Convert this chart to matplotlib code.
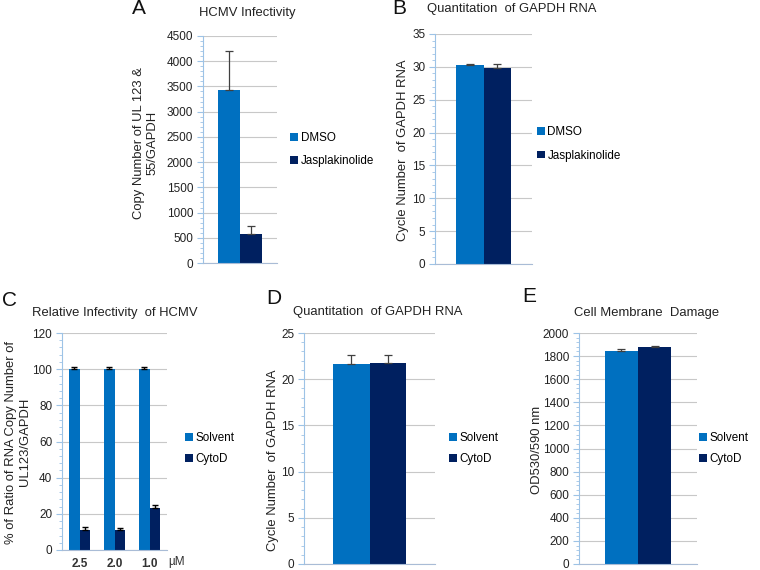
"""Five-panel bar figure: HCMV infectivity and controls (A-E)."""

import matplotlib
matplotlib.use("Agg")
import matplotlib.pyplot as plt
import numpy as np
from matplotlib.patches import Patch
from matplotlib.ticker import AutoMinorLocator, MultipleLocator

plt.rcParams["font.family"] = ["Liberation Sans", "DejaVu Sans"]

# ---------------------------------------------------------------------------
# Data
# ---------------------------------------------------------------------------
JASP_LABELS = ["DMSO", "Jasplakinolide"]
CYTO_LABELS = ["Solvent", "CytoD"]

A_VALUES = [3420, 570]
A_ERRORS = [780, 160]

B_VALUES = [30.3, 29.9]
B_ERRORS = [0.1, 0.6]

C_DOSES = ["2.5", "2.0", "1.0"]
C_SOLVENT = [100, 100, 100]
C_SOLVENT_ERR = [1.0, 1.0, 1.0]
C_CYTOD = [11.0, 11.0, 23.5]
C_CYTOD_ERR = [1.8, 1.3, 1.4]

D_VALUES = [21.6, 21.7]
D_ERRORS = [1.0, 0.9]

E_VALUES = [1845, 1875]
E_ERRORS = [20, 12]

# ---------------------------------------------------------------------------
# Style
# ---------------------------------------------------------------------------
W, H = 760, 570
LIGHT = "#0070C0"
DARK = "#002060"
GRID = "#C8C8C8"
SPINE = "#9DC3E6"
TEXT = "#222222"


def px_axes(fig, x0, y0, x1, y1):
    """Add axes from pixel box (top-left origin)."""
    return fig.add_axes([x0 / W, 1 - y1 / H, (x1 - x0) / W, (y1 - y0) / H])


def style_axes(ax, ymax, step):
    ax.set_ylim(0, ymax)
    ax.yaxis.set_major_locator(MultipleLocator(step))
    ax.yaxis.set_minor_locator(AutoMinorLocator(5))
    ax.grid(axis="y", color=GRID, linewidth=0.8, zorder=0)
    ax.set_axisbelow(True)
    for side in ("top", "right"):
        ax.spines[side].set_visible(False)
    ax.spines["left"].set_color(SPINE)
    ax.spines["bottom"].set_color("#A9BCD6")
    ax.tick_params(axis="y", which="major", length=4, color=SPINE,
                   labelsize=8.5, labelcolor=TEXT, pad=3)
    ax.tick_params(axis="y", which="minor", length=2.5, color=SPINE)
    ax.tick_params(axis="x", length=0)
    ax.set_xticks([])


def pair_bars(ax, values, errors, width, ecolor):
    offsets = [-width / 2, width / 2]
    for off, val, err, col in zip(offsets, values, errors, [LIGHT, DARK]):
        ax.bar(off, val, width=width, color=col, zorder=2)
        ax.errorbar(off, val, yerr=[[0], [err]], fmt="none", ecolor=ecolor,
                    elinewidth=0.9, capsize=3, capthick=0.9, zorder=3)
    ax.set_xlim(-0.5, 0.5)


def add_legend(fig, ax, labels, x, y, spacing):
    handles = [Patch(facecolor=c, edgecolor="none", label=l)
               for c, l in zip([LIGHT, DARK], labels)]
    ax.legend(handles=handles, loc="center left", bbox_to_anchor=(x / W, 1 - y / H),
              bbox_transform=fig.transFigure, frameon=False, fontsize=8.4,
              handlelength=0.65, handleheight=0.65, handletextpad=0.25,
              labelspacing=spacing, borderpad=0, borderaxespad=0)


def panel_text(fig, letter, lx, ly, title, tx, ty):
    fig.text(lx / W, 1 - ly / H, letter, fontsize=15, ha="left", va="center",
             color="#111111")
    fig.text(tx / W, 1 - ty / H, title, fontsize=9.4, ha="center", va="center",
             color=TEXT)


def ylabel(fig, x, y, text):
    fig.text(x / W, 1 - y / H, text, rotation=90, fontsize=9.4, ha="center",
             va="center", color=TEXT, linespacing=1.15)


fig = plt.figure(figsize=(W / 100, H / 100), dpi=100)

# Panel A
ax = px_axes(fig, 203, 36, 277, 263)
style_axes(ax, 4500, 500)
pair_bars(ax, A_VALUES, A_ERRORS, 0.297, "#404040")
add_legend(fig, ax, JASP_LABELS, 290, 149.5, 0.95)
panel_text(fig, "A", 132, 8, "HCMV Infectivity", 247, 13)
ylabel(fig, 146, 143, "Copy Number of UL 123 &\n55/GAPDH")

# Panel B
ax = px_axes(fig, 435, 34, 532, 264)
style_axes(ax, 35, 5)
pair_bars(ax, B_VALUES, B_ERRORS, 0.28, "#404040")
add_legend(fig, ax, JASP_LABELS, 537, 144, 0.95)
panel_text(fig, "B", 392, 8, "Quantitation  of GAPDH RNA", 512, 9)
ylabel(fig, 403, 150, "Cycle Number  of GAPDH RNA")

# Panel C
ax = px_axes(fig, 62, 333, 167, 550)
style_axes(ax, 120, 20)
x = np.arange(len(C_DOSES))
bw = 0.3
ax.bar(x - bw / 2, C_SOLVENT, width=bw, color=LIGHT, zorder=2)
ax.bar(x + bw / 2, C_CYTOD, width=bw, color=DARK, zorder=2)
ax.errorbar(x - bw / 2, C_SOLVENT, yerr=[np.zeros(3), C_SOLVENT_ERR], fmt="none",
            ecolor="black", elinewidth=1.0, capsize=2.5, capthick=1.0, zorder=3)
ax.errorbar(x + bw / 2, C_CYTOD, yerr=[np.zeros(3), C_CYTOD_ERR], fmt="none",
            ecolor="black", elinewidth=1.0, capsize=2.5, capthick=1.0, zorder=3)
ax.set_xlim(-0.5, len(C_DOSES) - 0.5)
ax.set_xticks(x)
ax.set_xticklabels(C_DOSES, fontsize=8.5, fontweight="bold", color="#333333")
ax.tick_params(axis="x", length=0, pad=6)
fig.text(177 / W, 1 - 562 / H, "\u00b5M", fontsize=8.5, ha="center", va="center",
         color="#333333")
add_legend(fig, ax, CYTO_LABELS, 185, 448.5, 0.75)
panel_text(fig, "C", 2, 300, "Relative Infectivity  of HCMV", 115, 313)
ylabel(fig, 18, 442, "% of Ratio of RNA Copy Number of\nUL123/GAPDH")

# Panel D
ax = px_axes(fig, 304, 333, 435, 564)
style_axes(ax, 25, 5)
pair_bars(ax, D_VALUES, D_ERRORS, 0.28, "#404040")
add_legend(fig, ax, CYTO_LABELS, 449, 448.5, 0.75)
panel_text(fig, "D", 266, 298, "Quantitation  of GAPDH RNA", 378, 312)
ylabel(fig, 273, 460, "Cycle Number  of GAPDH RNA")

# Panel E
ax = px_axes(fig, 579, 333, 697, 564)
style_axes(ax, 2000, 200)
pair_bars(ax, E_VALUES, E_ERRORS, 0.28, "#404040")
add_legend(fig, ax, CYTO_LABELS, 699, 448.5, 0.75)
panel_text(fig, "E", 522, 297, "Cell Membrane  Damage", 647, 313)
ylabel(fig, 537, 450, "OD530/590 nm")

fig.savefig("out.png", dpi=100, facecolor="white")
